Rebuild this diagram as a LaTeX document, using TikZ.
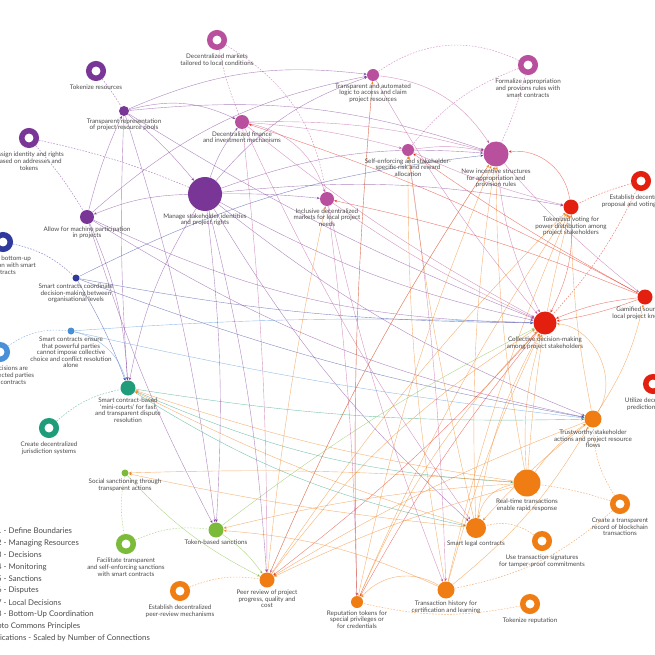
\documentclass[tikz,border=0pt]{standalone}
\usepackage{fontspec}
\setmainfont{Lato}
\usetikzlibrary{arrows.meta,backgrounds}
\definecolor{cPur}{HTML}{7A3697}
\definecolor{cMag}{HTML}{B9509E}
\definecolor{cRed}{HTML}{E3200F}
\definecolor{cOra}{HTML}{F07D14}
\definecolor{cLgr}{HTML}{7CBB3A}
\definecolor{cTea}{HTML}{1F9D7A}
\definecolor{cLbl}{HTML}{4A90D9}
\definecolor{cDbl}{HTML}{303A9C}
\definecolor{cTxt}{HTML}{4A4A4A}
\newcommand\lk[4]{\draw[lnk=#1] (#2) to[#4] (#3);}
\newcommand\dl[4]{\draw[dsh=#1] (#2) to[#4] (#3);}
\begin{document}
\begin{tikzpicture}[x=1pt,y=-1pt,
  mech/.style={circle,fill=#1,draw=none,inner sep=0pt},
  ring/.style={circle,draw=#1,line width=5.5pt,minimum size=14.5pt,inner sep=0pt},
  lbl/.style={anchor=north,align=center,inner sep=0pt,text=cTxt,font=\fontsize{6.3}{6.6}\selectfont},
  leg/.style={anchor=west,inner sep=0pt,text=cTxt,font=\fontsize{7.8}{9}\selectfont},
  lnk/.style={draw=#1,draw opacity=0.6,line width=0.4pt,-{Stealth[length=3.2pt,width=2.6pt]}},
  dsh/.style={draw=#1!55,line width=0.55pt,dash pattern=on 1.6pt off 1.4pt}]
\useasboundingbox (0,0) rectangle (655,655);
\clip (0,0) rectangle (655,655);
% ---------- mechanism nodes ----------
\node[mech=cPur,minimum size=10pt] (tpool) at (124,111) {};
\node[mech=cPur,minimum size=34pt] (ident) at (205,194) {};
\node[mech=cPur,minimum size=14pt] (machine) at (87,217) {};
\node[mech=cMag,minimum size=14pt] (defi) at (242,122) {};
\node[mech=cMag,minimum size=12pt] (logic) at (373,75) {};
\node[mech=cMag,minimum size=12pt] (risk) at (408,150) {};
\node[mech=cMag,minimum size=25pt] (incent) at (496,154) {};
\node[mech=cMag,minimum size=14pt] (inclmk) at (327,199) {};
\node[mech=cRed,minimum size=15pt] (tvote) at (571,207) {};
\node[mech=cRed,minimum size=23pt] (collect) at (545,323) {};
\node[mech=cRed,minimum size=15pt] (gamif) at (645,297) {};
\node[mech=cOra,minimum size=17pt] (trust) at (593,419) {};
\node[mech=cOra,minimum size=27pt] (rtime) at (527,483) {};
\node[mech=cOra,minimum size=20pt] (legal) at (476,528) {};
\node[mech=cOra,minimum size=17pt] (thist) at (446,590) {};
\node[mech=cOra,minimum size=12pt] (reput) at (357,602) {};
\node[mech=cOra,minimum size=15pt] (peer) at (267,580) {};
\node[mech=cLgr,minimum size=7pt] (social) at (125,473) {};
\node[mech=cLgr,minimum size=15pt] (tsanc) at (216,530) {};
\node[mech=cTea,minimum size=15pt] (court) at (128,388) {};
\node[mech=cLbl,minimum size=7pt] (ensure) at (71,331) {};
\node[mech=cDbl,minimum size=7pt] (coord) at (76,278) {};
% ---------- application rings ----------
\node[ring=cMag] (mkt) at (217,40) {};
\node[ring=cPur] (tokres) at (96,71) {};
\node[ring=cPur] (assign) at (29,138) {};
\node[ring=cMag] (formal) at (528,65) {};
\node[ring=cRed] (propv) at (641,181) {};
\node[ring=cRed] (predm) at (653,384) {};
\node[ring=cDbl] (bottomup) at (3,242) {};
\node[ring=cLbl] (decis) at (0,352) {};
\node[ring=cTea] (juris) at (49,428) {};
\node[ring=cLgr] (facil) at (126,544) {};
\node[ring=cOra] (estpeer) at (180,591) {};
\node[ring=cOra] (record) at (620,504) {};
\node[ring=cOra] (sigs) at (542,541) {};
\node[ring=cOra] (tokrep) at (530,604) {};
% ---------- labels ----------
\node[lbl] (tpoolL) at ([yshift=-2pt]tpool.south) {Transparent representation\\of project resource pools};
\node[lbl] (identL) at ([yshift=-2pt]ident.south) {Manage stakeholder identities\\and project rights};
\node[lbl] (machineL) at ([yshift=-2pt]machine.south) {Allow for machine participation\\in projects};
\node[lbl] (defiL) at ([yshift=-2pt]defi.south) {Decentralized finance\\and investment mechanisms};
\node[lbl] (logicL) at ([yshift=-2pt]logic.south) {Transparent and automated\\logic to access and claim\\project resources};
\node[lbl] (riskL) at ([yshift=-2pt]risk.south) {Self-enforcing and stakeholder-\\specific risk and reward\\allocation};
\node[lbl] (incentL) at ([yshift=-2pt]incent.south) {New incentive structures\\for appropriation and\\provision rules};
\node[lbl] (inclmkL) at ([yshift=-2pt]inclmk.south) {Inclusive decentralized\\markets for local project\\needs};
\node[lbl] (tvoteL) at ([yshift=-2pt]tvote.south) {Tokenized voting for\\power distribution among\\project stakeholders};
\node[lbl] (collectL) at ([yshift=-2pt]collect.south) {Collective decision-making\\among project stakeholders};
\node[lbl] (gamifL) at ([yshift=-2pt]gamif.south) {Gamified sourcing of\\local project knowledge};
\node[lbl] (trustL) at ([yshift=-2pt]trust.south) {Trustworthy stakeholder\\actions and project resource\\flows};
\node[lbl] (rtimeL) at ([yshift=-2pt]rtime.south) {Real-time transactions\\enable rapid response};
\node[lbl] (legalL) at ([yshift=-2pt]legal.south) {Smart legal contracts};
\node[lbl] (thistL) at ([yshift=-2pt]thist.south) {Transaction history for\\certification and learning};
\node[lbl] (reputL) at ([yshift=-2pt]reput.south) {Reputation tokens for\\special privileges or\\for credentials};
\node[lbl] (peerL) at ([yshift=-2pt]peer.south) {Peer review of project\\progress, quality and\\cost};
\node[lbl] (socialL) at ([yshift=-2pt]social.south) {Social sanctioning through\\transparent actions};
\node[lbl] (tsancL) at ([yshift=-2pt]tsanc.south) {Token-based sanctions};
\node[lbl] (courtL) at ([yshift=-2pt]court.south) {Smart contract-based\\`mini-courts' for fast\\and transparent dispute\\resolution};
\node[lbl] (ensureL) at ([yshift=-2pt]ensure.south) {Smart contracts ensure\\that powerful parties\\cannot impose collective\\choice and conflict resolution\\alone};
\node[lbl] (coordL) at ([yshift=-2pt]coord.south) {Smart contracts coordinate\\decision-making between\\organisational levels};
\node[lbl] (mktL) at ([yshift=-4pt]mkt.south) {Decentralized markets\\tailored to local conditions};
\node[lbl] (tokresL) at ([yshift=-4pt]tokres.south) {Tokenize resources};
\node[lbl] (assignL) at ([yshift=-4pt]assign.south) {Assign identity and rights\\based on addresses and\\tokens};
\node[lbl] (formalL) at ([yshift=-4pt]formal.south) {Formalize appropriation\\and provions rules with\\smart contracts};
\node[lbl] (propvL) at ([yshift=-4pt]propv.south) {Establish decentralized\\proposal and voting systems};
\node[lbl] (predmL) at ([yshift=-4pt]predm.south) {Utilize decentralized\\prediction markets};
\node[lbl] (bottomupL) at ([yshift=-4pt]bottomup.south) {Facilitate bottom-up\\coordination with smart\\contracts};
\node[lbl] (decisL) at ([yshift=-4pt]decis.south) {Ensure decisions are\\made by affected parties\\via smart contracts};
\node[lbl] (jurisL) at ([yshift=-4pt]juris.south) {Create decentralized\\jurisdiction systems};
\node[lbl] (facilL) at ([yshift=-4pt]facil.south) {Facilitate transparent\\and self-enforcing sanctions\\with smart contracts};
\node[lbl] (estpeerL) at ([yshift=-4pt]estpeer.south) {Establish decentralized\\peer-review mechanisms};
\node[lbl] (recordL) at ([yshift=-4pt]record.south) {Create a transparent\\record of blockchain\\transactions};
\node[lbl] (sigsL) at ([yshift=-4pt]sigs.south) {Use transaction signatures\\for tamper-proof commitments};
\node[lbl] (tokrepL) at ([yshift=-4pt]tokrep.south) {Tokenize reputation};
% ---------- legend ----------
\node[leg] (lg1) at (-3,531) {1 - Define Boundaries};
\node[leg] (lg2) at (-3,543) {2 - Managing Resources};
\node[leg] (lg3) at (-3,555) {3 - Decisions};
\node[leg] (lg4) at (-3,567) {4 - Monitoring};
\node[leg] (lg5) at (-3,579) {5 - Sanctions};
\node[leg] (lg6) at (-3,590.5) {6 - Disputes};
\node[leg] (lg7) at (-3,602.5) {7 - Local Decisions};
\node[leg] (lg8) at (-3,614.5) {8 - Bottom-Up Coordination};
\node[leg] (lg9) at (-15,626.5) {Crypto Commons Principles};
\node[leg] (lg10) at (-16,638.5) {Applications - Scaled by Number of Connections};
% ---------- connectors ----------
\begin{pgfonlayer}{background}
% dashed application links
\dl{cMag}{mkt}{defi}{bend right=5}
\dl{cMag}{mkt}{inclmk}{bend left=25}
\dl{cPur}{tokres}{tpool}{bend left=3}
\dl{cPur}{assign}{ident}{bend left=5}
\dl{cPur}{assign}{machine}{bend left=5}
\dl{cMag}{formal}{logic}{bend right=30}
\dl{cMag}{formal}{risk}{bend right=15}
\dl{cMag}{formal}{incent}{bend left=5}
\dl{cRed}{propv}{tvote}{bend right=5}
\dl{cRed}{propv}{collect}{bend left=8}
\dl{cDbl}{bottomup}{coord}{bend left=15}
\dl{cLbl}{decis}{ensure}{bend left=20}
\dl{cTea}{juris}{court}{bend left=15}
\dl{cLgr}{facil}{social}{bend left=10}
\dl{cLgr}{facil}{tsanc}{bend left=15}
\dl{cOra}{estpeer}{peer}{bend left=15}
\dl{cOra}{record}{rtime}{bend right=5}
\dl{cOra}{record}{trust}{bend left=15}
\dl{cOra}{record}{thist}{bend left=15}
\dl{cOra}{sigs}{legal}{bend right=25}
\dl{cOra}{tokrep}{reput}{bend left=12}
% purple
\lk{cPur}{ident}{machine}{bend right=10}
\lk{cPur}{ident}{defi}{bend left=10}
\lk{cPur}{ident}{inclmk}{bend left=3}
\lk{cPur}{ident}{logic}{bend left=15}
\lk{cPur}{ident}{incent}{bend left=12}
\lk{cPur}{ident}{tvote}{bend left=8}
\lk{cPur}{ident}{collect}{bend right=8}
\lk{cPur}{ident}{court}{bend right=10}
\lk{cPur}{ident}{tsanc}{bend left=5}
\lk{cPur}{ident}{trust}{bend right=8}
\lk{cPur}{ident}{legal}{bend right=8}
\lk{cPur}{ident}{peer}{bend left=5}
\lk{cPur}{tpool}{defi}{bend left=20}
\lk{cPur}{tpool}{logic}{bend left=15}
\lk{cPur}{tpool}{incent}{bend left=12}
\lk{cPur}{tpool}{ident}{bend left=5}
\lk{cPur}{tpool}{court}{bend right=3}
\lk{cPur}{tpool}{tsanc}{bend left=5}
\lk{cPur}{tpool}{collect}{bend right=5}
\lk{cPur}{machine}{tpool}{bend left=5}
\lk{cPur}{machine}{court}{bend left=10}
\lk{cPur}{machine}{collect}{bend right=12}
\lk{cPur}{machine}{trust}{bend right=10}
\lk{cPur}{machine}{logic}{bend left=15}
\lk{cPur}{machine}{tsanc}{bend right=5}
% magenta
\lk{cMag}{defi}{inclmk}{bend left=30}
\lk{cMag}{defi}{risk}{bend left=5}
\lk{cMag}{defi}{incent}{bend left=8}
\lk{cMag}{defi}{collect}{bend right=5}
\lk{cMag}{defi}{peer}{bend left=3}
\lk{cMag}{defi}{legal}{bend right=5}
\lk{cMag}{logic}{incent}{bend left=25}
\lk{cMag}{logic}{collect}{bend right=5}
\lk{cMag}{logic}{reput}{bend right=3}
\lk{cMag}{risk}{incent}{bend left=10}
\lk{cMag}{risk}{thist}{bend left=3}
\lk{cMag}{risk}{tvote}{bend right=5}
\lk{cMag}{inclmk}{collect}{bend right=5}
\lk{cMag}{inclmk}{reput}{bend left=3}
\lk{cMag}{inclmk}{thist}{bend right=4}
\lk{cMag}{incent}{gamif}{bend right=5}
\lk{cMag}{incent}{collect}{bend right=10}
\lk{cMag}{incent}{peer}{bend right=5}
% red
\lk{cRed}{tvote}{incent}{bend right=45}
\lk{cRed}{tvote}{collect}{bend left=15}
\lk{cRed}{gamif}{collect}{bend left=5}
\lk{cRed}{gamif}{collect}{bend right=8}
\lk{cRed}{gamif}{inclmk}{bend right=5}
\lk{cRed}{gamif}{defi}{bend right=5}
\lk{cRed}{gamif}{risk}{bend left=3}
\lk{cRed}{collect}{peer}{bend left=5}
\lk{cRed}{collect}{reput}{bend right=5}
% blue / teal / green
\lk{cDbl}{coord}{collect}{bend right=5}
\lk{cDbl}{coord}{trust}{bend right=5}
\lk{cDbl}{coord}{court}{bend left=5}
\lk{cDbl}{coord}{incent}{bend left=10}
\lk{cLbl}{ensure}{court}{bend left=30}
\lk{cLbl}{ensure}{collect}{bend left=3}
\lk{cLbl}{ensure}{trust}{bend right=3}
\lk{cTea}{court}{trust}{bend right=5}
\lk{cTea}{court}{rtime}{bend right=10}
\lk{cTea}{court}{legal}{bend right=10}
\lk{cLgr}{social}{peer}{bend right=10}
\lk{cLgr}{tsanc}{peer}{bend left=10}
\lk{cLgr}{tsanc}{collect}{bend left=5}
% orange
\lk{cOra}{rtime}{legal}{bend right=35}
\lk{cOra}{rtime}{collect}{bend left=10}
\lk{cOra}{rtime}{tvote}{bend left=5}
\lk{cOra}{rtime}{trust}{bend left=10}
\lk{cOra}{rtime}{incent}{bend left=5}
\lk{cOra}{rtime}{tsanc}{bend right=5}
\lk{cOra}{rtime}{peer}{bend right=5}
\lk{cOra}{rtime}{social}{bend right=3}
\lk{cOra}{rtime}{court}{bend left=5}
\lk{cOra}{thist}{reput}{bend right=40}
\lk{cOra}{thist}{collect}{bend left=5}
\lk{cOra}{thist}{tvote}{bend left=5}
\lk{cOra}{thist}{trust}{bend right=10}
\lk{cOra}{thist}{tsanc}{bend right=10}
\lk{cOra}{thist}{risk}{bend left=5}
\lk{cOra}{reput}{incent}{bend left=5}
\lk{cOra}{reput}{tvote}{bend left=5}
\lk{cOra}{reput}{collect}{bend left=10}
\lk{cOra}{reput}{logic}{bend left=3}
\lk{cOra}{legal}{collect}{bend left=10}
\lk{cOra}{legal}{court}{bend left=5}
\lk{cOra}{legal}{incent}{bend left=5}
\lk{cOra}{legal}{risk}{bend left=3}
\lk{cOra}{legal}{social}{bend left=3}
\lk{cOra}{peer}{collect}{bend left=10}
\lk{cOra}{peer}{tvote}{bend left=5}
\lk{cOra}{peer}{inclmk}{bend left=3}
\lk{cOra}{peer}{incent}{bend left=5}
\lk{cOra}{trust}{collect}{bend right=60}
\lk{cOra}{trust}{gamif}{bend right=10}
\lk{cOra}{trust}{tvote}{bend left=5}
\lk{cOra}{trust}{peer}{bend right=5}
\lk{cOra}{trust}{legal}{bend right=5}
\end{pgfonlayer}
\end{tikzpicture}
\end{document}
